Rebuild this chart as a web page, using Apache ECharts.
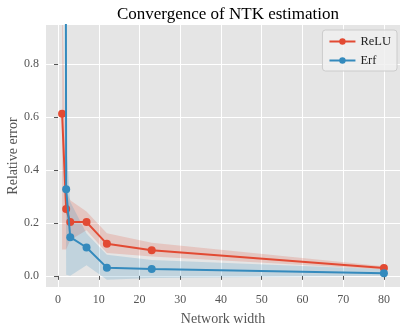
<!DOCTYPE html>
<html>
<head>
<meta charset="utf-8">
<script src="https://cdn.jsdelivr.net/npm/echarts@6/dist/echarts.min.js"></script>
<style>
  html, body { margin: 0; padding: 0; background: #fff; }
  #chart { width: 408px; height: 331px; }
</style>
</head>
<body>
<div id="chart"></div>
<script>
  // network widths (x axis)
  var widths = [1, 2, 3, 7, 12, 23, 80];
  // ReLU relative error: mean and band
  var reluMean = [0.612, 0.252, 0.203, 0.203, 0.121, 0.097, 0.030];
  var reluLow = [0.10, 0.10, 0.135, 0.172, 0.086, 0.073, 0.024];
  var reluHigh = [1.11, 0.32, 0.285, 0.243, 0.161, 0.125, 0.036];
  // Erf relative error: mean and band (first point far above the plot)
  var erfMean = [10, 0.327, 0.146, 0.107, 0.031, 0.026, 0.010];
  var erfLow = [6, 0.004, 0.0, 0.04, -0.015, -0.008, 0.0];
  var erfHigh = [14, 0.5, 0.28, 0.16, 0.08, 0.06, 0.025];
  // tick labels
  var xTicks = [0, 10, 20, 30, 40, 50, 60, 70, 80];
  var yTicks = [0, 0.2, 0.4, 0.6, 0.8];

  var font = 'Liberation Serif';
  var red = '#E24A33';
  var blue = '#348ABD';

  function pairs(ys) {
    return widths.map(function (x, i) { return [x, ys[i]]; });
  }

  // shaded band drawn as one polygon through the axes' coord()
  function band(name, lo, hi, color) {
    return {
      name: name, type: 'custom', silent: true, clip: true, z: 1,
      data: widths.map(function (x, i) { return [x, lo[i], hi[i]]; }),
      encode: {x: 0, y: [1, 2]},
      renderItem: function (params, api) {
        if (params.dataIndex !== 0) return;
        var pts = [];
        for (var i = 0; i < widths.length; i++) pts.push(api.coord([widths[i], hi[i]]));
        for (var j = widths.length - 1; j >= 0; j--) pts.push(api.coord([widths[j], lo[j]]));
        return {
          type: 'polygon',
          shape: {points: pts},
          style: {fill: color, opacity: 0.2}
        };
      }
    };
  }

  var chart = echarts.init(document.getElementById('chart'));
  chart.setOption({
    animation: false,
    title: {
      text: 'Convergence of NTK estimation',
      left: 223, top: 1, textAlign: 'center',
      textStyle: {fontFamily: font, fontSize: 17, fontWeight: 'normal', color: '#000'}
    },
    legend: {
      data: ['ReLU', 'Erf'],
      orient: 'vertical',
      right: 11, top: 30,
      itemWidth: 26, itemHeight: 8, itemGap: 6,
      padding: [5, 6, 4, 6],
      backgroundColor: 'rgba(240,240,240,0.85)',
      borderColor: '#cccccc', borderWidth: 1, borderRadius: 3,
      textStyle: {fontFamily: font, fontSize: 12.5, color: '#222'}
    },
    grid: {
      left: 46, right: 8, top: 25, bottom: 44,
      outerBoundsMode: 'none', containLabel: false,
      show: true, backgroundColor: '#E5E5E5', borderWidth: 0
    },
    xAxis: {
      type: 'value', min: -2.95, max: 83.95,
      name: 'Network width', nameLocation: 'middle', nameGap: 25, nameMoveOverlap: false,
      nameTextStyle: {fontFamily: font, fontSize: 14, color: '#555'},
      axisLine: {show: false},
      axisTick: {show: true, customValues: xTicks, length: 4, lineStyle: {color: '#555'}},
      axisLabel: {customValues: xTicks, fontFamily: font, fontSize: 12, color: '#555', margin: 7},
      splitLine: {show: true, lineStyle: {color: '#fff', width: 1}}
    },
    yAxis: {
      type: 'value', min: -0.042, max: 0.947,
      name: 'Relative error', nameLocation: 'middle', nameGap: 26, nameMoveOverlap: false,
      nameTextStyle: {fontFamily: font, fontSize: 14, color: '#555'},
      axisLine: {show: false},
      axisTick: {show: true, customValues: yTicks, length: 4, lineStyle: {color: '#555'}},
      axisLabel: {customValues: yTicks, fontFamily: font, fontSize: 12, color: '#555', margin: 7,
        formatter: function (v) { return v.toFixed(1); }},
      splitLine: {show: true, lineStyle: {color: '#fff', width: 1}}
    },
    series: [
      band('ReLU band', reluLow, reluHigh, red),
      band('Erf band', erfLow, erfHigh, blue),
      {
        name: 'ReLU', type: 'line', data: pairs(reluMean),
        symbol: 'circle', symbolSize: 8, color: red,
        lineStyle: {width: 2, color: red}, itemStyle: {color: red}, z: 3
      },
      {
        name: 'Erf', type: 'line', data: pairs(erfMean),
        symbol: 'circle', symbolSize: 8, color: blue,
        lineStyle: {width: 2, color: blue}, itemStyle: {color: blue}, z: 4
      }
    ]
  });
</script>
</body>
</html>
